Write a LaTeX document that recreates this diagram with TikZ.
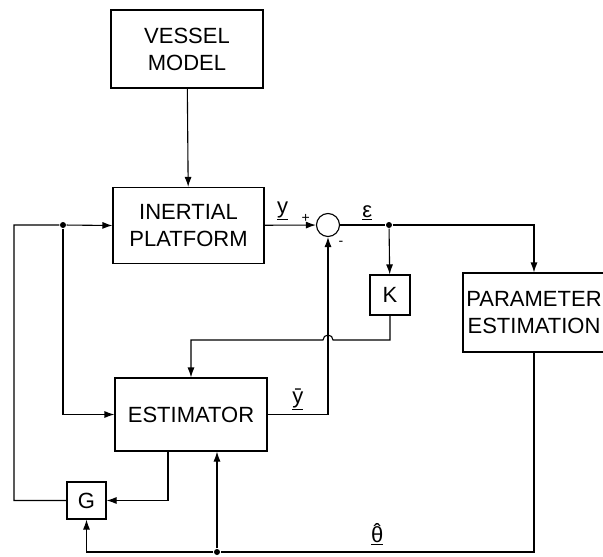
\documentclass[tikz,border=0pt]{standalone}
\usepackage{fontspec}
\setmainfont{Liberation Sans}
\usetikzlibrary{arrows.meta}
\begin{document}
\begin{tikzpicture}[
x=1pt,y=-1pt,
line width=1.1pt,
>={Latex[length=10pt,width=7pt]},
every node/.style={font=\fontsize{22}{27}\selectfont},
block/.style={draw,align=center,inner sep=0pt},
junct/.style={circle,fill,inner sep=0pt,minimum size=6pt}
]
\useasboundingbox (0,0) rectangle (603,557);
\node[block,minimum width=152,minimum height=78] (vessel) at (187,49) {VESSEL\\MODEL};
\node[block,minimum width=151,minimum height=76] (inertial) at (188.5,225.5) {INERTIAL\\PLATFORM};
\node[draw,circle,minimum size=23,inner sep=0pt] (sum) at (328,225) {};
\node[block,minimum width=40,minimum height=40] (k) at (390,295) {K};
\node[block,minimum width=142,minimum height=79] (param) at (534,312.5) {PARAMETER\\ESTIMATION};
\node[block,minimum width=152,minimum height=73] (estimator) at (191,414.5) {ESTIMATOR};
\node[block,minimum width=39,minimum height=37] (g) at (86.5,500.5) {G};
\node[junct] (dotL) at (63,225) {};
\node[junct] (dotE) at (389,225) {};
\node[junct] (dotB) at (217,552) {};
\draw[->] (vessel) -- (inertial);
\draw[->] (inertial) -- node[pos=.35,above=1pt]{\underline{y}} node[pos=.8,above=-1pt,font=\fontsize{14}{14}\selectfont]{+} (sum);
\draw (sum) -- node[pos=.6,above=1pt]{\underline{ε}} (dotE);
\draw[->] (dotE) -| (param.north);
\draw[->] (dotE) -- (k);
\draw[->] (k.south) |- (333,340) arc[start angle=0,end angle=-180,radius=5] -| (estimator.north);
\draw[->] (estimator.east) -- node[above=1pt]{\underline{ȳ}} (estimator.east -| sum) -- (sum.south);
\node[font=\fontsize{14}{14}\selectfont] (minus) at (341,243) {-};
\draw[->] (g.west) -| (14,225) -- (dotL) -- (inertial.west);
\draw[->] (dotL) |- (estimator.west);
\draw[->] ([xshift=-23]estimator.south) |- (g.east);
\draw (param.south) |- node[pos=.75,above=3pt]{\underline{\accent"02C6 θ}} (dotB);
\draw[->] (dotB) -| (g.south);
\draw[->] (dotB) -- (dotB |- estimator.south);
\end{tikzpicture}
\end{document}
